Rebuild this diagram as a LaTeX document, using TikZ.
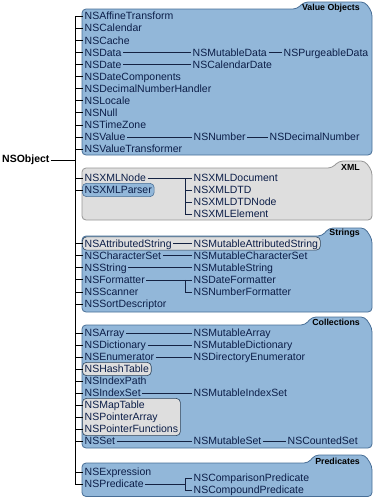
\documentclass[tikz,border=0pt]{standalone}
\usepackage{fontspec}
\setmainfont{Liberation Sans}
\usepackage{tikz}
\usetikzlibrary{positioning,calc,fit,backgrounds}

\definecolor{panelblue}{RGB}{146,183,217}
\definecolor{panelblueline}{RGB}{72,110,150}
\definecolor{panelgray}{RGB}{222,222,222}
\definecolor{panelgrayline}{RGB}{150,150,150}
\definecolor{classtext}{RGB}{12,30,72}
\definecolor{linkline}{RGB}{20,34,66}

\begin{document}
\begin{tikzpicture}[x=1pt,y=-1pt,
    cls/.style={anchor=west, inner xsep=1.5pt, inner ysep=2pt, text height=7.6pt, text depth=0pt,
        text=classtext, font=\fontsize{10.5}{12}\selectfont},
    root/.style={anchor=west, inner sep=1pt, font=\fontsize{10.5}{12}\selectfont\bfseries},
    tablabel/.style={anchor=east, inner sep=1pt, font=\fontsize{8.8}{10}\selectfont\bfseries},
    link/.style={linkline, line width=0.6pt},
    bluepanel/.style={fill=panelblue, draw=panelblueline, line width=0.8pt, rounded corners=4pt},
    graypanel/.style={fill=panelgray, draw=panelgrayline, line width=0.8pt, rounded corners=4pt},
    grayhl/.style={fill=panelgray, draw=panelblueline!60!black, line width=0.6pt, rounded corners=4pt, inner sep=0.6pt},
    bluehl/.style={fill=panelblue, draw=panelblueline, line width=0.6pt, rounded corners=4pt, inner sep=0.6pt}]
    \useasboundingbox (0,0) rectangle (373,498);

    % Root class and trunk
    \node[root] (NSObject) at (1,160) {NSObject};
    \coordinate (trunk) at (75,16);

    % Value Objects
    \node[cls] (NSAffineTransform) at (83,16) {NSAffineTransform};
    \node[cls] (NSCalendar) at (83,28.1) {NSCalendar};
    \node[cls] (NSCache) at (83,40.2) {NSCache};
    \node[cls] (NSData) at (83,52.3) {NSData};
    \node[cls] (NSMutableData) at (191,52.3) {NSMutableData};
    \node[cls] (NSPurgeableData) at (282,52.3) {NSPurgeableData};
    \node[cls] (NSDate) at (83,64.4) {NSDate};
    \node[cls] (NSCalendarDate) at (191,64.4) {NSCalendarDate};
    \node[cls] (NSDateComponents) at (83,76.5) {NSDateComponents};
    \node[cls] (NSDecimalNumberHandler) at (83,88.6) {NSDecimalNumberHandler};
    \node[cls] (NSLocale) at (83,100.7) {NSLocale};
    \node[cls] (NSNull) at (83,112.8) {NSNull};
    \node[cls] (NSTimeZone) at (83,124.9) {NSTimeZone};
    \node[cls] (NSValue) at (83,137) {NSValue};
    \node[cls] (NSNumber) at (192,137) {NSNumber};
    \node[cls] (NSDecimalNumber) at (268,137) {NSDecimalNumber};
    \node[cls] (NSValueTransformer) at (83,149.1) {NSValueTransformer};

    % XML
    \node[cls] (NSXMLNode) at (83,178) {NSXMLNode};
    \node[cls] (NSXMLParser) at (83,190) {NSXMLParser};
    \node[cls] (NSXMLDocument) at (192,178) {NSXMLDocument};
    \node[cls] (NSXMLDTD) at (192,190) {NSXMLDTD};
    \node[cls] (NSXMLDTDNode) at (192,202) {NSXMLDTDNode};
    \node[cls] (NSXMLElement) at (192,214) {NSXMLElement};
    \coordinate (xmlfork) at (185,178);

    % Strings
    \node[cls] (NSAttributedString) at (83,243.5) {NSAttributedString};
    \node[cls] (NSMutableAttributedString) at (192,243.5) {NSMutableAttributedString};
    \node[cls] (NSCharacterSet) at (83,255.6) {NSCharacterSet};
    \node[cls] (NSMutableCharacterSet) at (192,255.6) {NSMutableCharacterSet};
    \node[cls] (NSString) at (83,267.7) {NSString};
    \node[cls] (NSMutableString) at (192,267.7) {NSMutableString};
    \node[cls] (NSFormatter) at (83,279.8) {NSFormatter};
    \node[cls] (NSDateFormatter) at (192,279.8) {NSDateFormatter};
    \node[cls] (NSNumberFormatter) at (192,291.9) {NSNumberFormatter};
    \node[cls] (NSScanner) at (83,291.9) {NSScanner};
    \node[cls] (NSSortDescriptor) at (83,304) {NSSortDescriptor};
    \coordinate (fmtfork) at (185,279.8);

    % Collections
    \node[cls] (NSArray) at (83,333) {NSArray};
    \node[cls] (NSMutableArray) at (192,333) {NSMutableArray};
    \node[cls] (NSDictionary) at (83,345) {NSDictionary};
    \node[cls] (NSMutableDictionary) at (192,345) {NSMutableDictionary};
    \node[cls] (NSEnumerator) at (83,357) {NSEnumerator};
    \node[cls] (NSDirectoryEnumerator) at (192,357) {NSDirectoryEnumerator};
    \node[cls] (NSHashTable) at (83,369) {NSHashTable};
    \node[cls] (NSIndexPath) at (83,381) {NSIndexPath};
    \node[cls] (NSIndexSet) at (83,393) {NSIndexSet};
    \node[cls] (NSMutableIndexSet) at (192,393) {NSMutableIndexSet};
    \node[cls] (NSMapTable) at (83,405) {NSMapTable};
    \node[cls] (NSPointerArray) at (83,417) {NSPointerArray};
    \node[cls] (NSPointerFunctions) at (83,429) {NSPointerFunctions};
    \node[cls] (NSSet) at (83,441) {NSSet};
    \node[cls] (NSMutableSet) at (192,441) {NSMutableSet};
    \node[cls] (NSCountedSet) at (286,441) {NSCountedSet};

    % Predicates
    \node[cls] (NSExpression) at (83,472) {NSExpression};
    \node[cls] (NSPredicate) at (83,484) {NSPredicate};
    \node[cls] (NSComparisonPredicate) at (192,478) {NSComparisonPredicate};
    \node[cls] (NSCompoundPredicate) at (192,490) {NSCompoundPredicate};
    \coordinate (predfork) at (185,478);

    % Panels and highlighted groups behind the classes
    \begin{scope}[on background layer]
        \draw[bluepanel] (82,155) -- (82,9) -- (297,9) -- (304,2) -- (365,2) -- (372,12) -- (372,155) -- cycle;
        \draw[graypanel] (82,220) -- (82,168) -- (332,168) -- (339,161) -- (365,161) -- (372,171) -- (372,220) -- cycle;
        \draw[bluepanel] (82,312) -- (82,236) -- (322,236) -- (329,228) -- (365,228) -- (372,239) -- (372,312) -- cycle;
        \draw[bluepanel] (82,448) -- (82,325) -- (305,325) -- (312,317) -- (365,317) -- (372,328) -- (372,448) -- cycle;
        \draw[bluepanel] (82,496.5) -- (82,463) -- (308,463) -- (315,455) -- (365,455) -- (372,466) -- (372,496.5) -- cycle;

        \node[bluehl, fit=(NSXMLParser)] (parserbox) {};
        \node[grayhl, fit=(NSAttributedString)(NSMutableAttributedString)] (attrbox) {};
        \node[grayhl, fit=(NSHashTable)] (hashbox) {};
        \node[grayhl, fit=(NSMapTable)(NSPointerArray)(NSPointerFunctions)] (pointerbox) {};
    \end{scope}

    % Group labels
    \node[tablabel] (voLabel) at (361,8) {Value Objects};
    \node[tablabel] (xmlLabel) at (361,167.5) {XML};
    \node[tablabel] (strLabel) at (361,233) {Strings};
    \node[tablabel] (colLabel) at (361,322.5) {Collections};
    \node[tablabel] (predLabel) at (361,461) {Predicates};

    % Trunk from NSObject to every root class
    \draw[line width=0.7pt] (NSObject.east) -- (NSObject.east -| trunk);
    \foreach \c in {NSAffineTransform,NSCalendar,NSCache,NSData,NSDate,NSDateComponents,
        NSDecimalNumberHandler,NSLocale,NSNull,NSTimeZone,NSValue,NSValueTransformer,
        NSXMLNode,NSXMLParser,NSAttributedString,NSCharacterSet,NSString,NSFormatter,
        NSScanner,NSSortDescriptor,NSArray,NSDictionary,NSEnumerator,NSHashTable,
        NSIndexPath,NSIndexSet,NSMapTable,NSPointerArray,NSPointerFunctions,NSSet,
        NSExpression,NSPredicate}
        \draw[line width=0.7pt] (trunk) |- (\c.west);

    % Subclass links
    \draw[link] (NSData) -- (NSMutableData);
    \draw[link] (NSMutableData) -- (NSPurgeableData);
    \draw[link] (NSDate) -- (NSCalendarDate);
    \draw[link] (NSValue) -- (NSNumber);
    \draw[link] (NSNumber) -- (NSDecimalNumber);
    \draw[link] (NSXMLNode) -- (NSXMLDocument);
    \draw[link] (xmlfork) |- (NSXMLDTD.west);
    \draw[link] (xmlfork) |- (NSXMLDTDNode.west);
    \draw[link] (xmlfork) |- (NSXMLElement.west);
    \draw[link] (NSAttributedString) -- (NSMutableAttributedString);
    \draw[link] (NSCharacterSet) -- (NSMutableCharacterSet);
    \draw[link] (NSString) -- (NSMutableString);
    \draw[link] (NSFormatter) -- (NSDateFormatter);
    \draw[link] (fmtfork) |- (NSNumberFormatter.west);
    \draw[link] (NSArray) -- (NSMutableArray);
    \draw[link] (NSDictionary) -- (NSMutableDictionary);
    \draw[link] (NSEnumerator) -- (NSDirectoryEnumerator);
    \draw[link] (NSIndexSet) -- (NSMutableIndexSet);
    \draw[link] (NSSet) -- (NSMutableSet);
    \draw[link] (NSMutableSet) -- (NSCountedSet);
    \draw[link] (NSPredicate.east) -- (NSPredicate.east -| predfork);
    \draw[link] (predfork) -- (NSComparisonPredicate.west);
    \draw[link] (predfork) |- (NSCompoundPredicate.west);
\end{tikzpicture}
\end{document}
